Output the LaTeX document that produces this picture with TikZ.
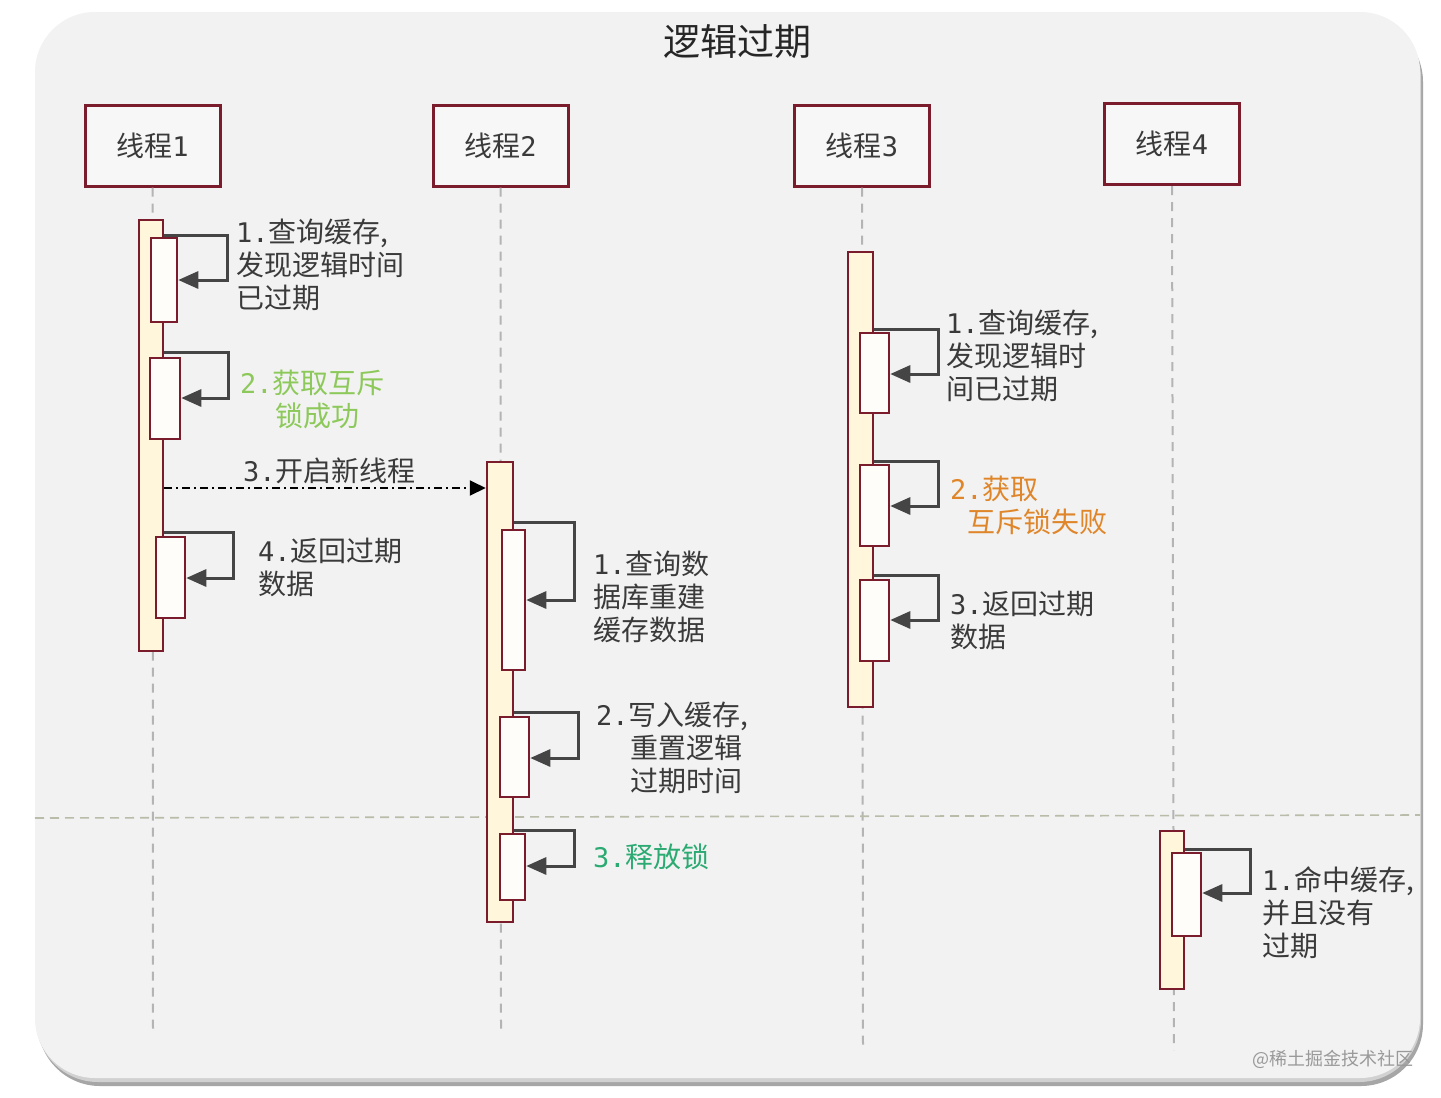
\documentclass[tikz,border=0pt]{standalone}
\usepackage{fontspec}
\setmainfont{Noto Sans CJK SC}
\newfontfamily\monof{DejaVu Sans Mono}
\usetikzlibrary{arrows.meta,fit}
\definecolor{bord}{HTML}{7B1C2C}
\definecolor{panel}{HTML}{F2F2F2}
\definecolor{barfill}{HTML}{FFF6DC}
\definecolor{subfill}{HTML}{FFFDF9}
\definecolor{txt}{HTML}{3A3A3A}
\definecolor{arr}{HTML}{454545}
\definecolor{lifec}{HTML}{B4B4B4}
\definecolor{limeg}{HTML}{8DC95A}
\definecolor{tealg}{HTML}{2BAA72}
\definecolor{orng}{HTML}{E0862A}
\definecolor{divc}{HTML}{B8BCA8}
\newcommand\nm[1]{{\monof\fontsize{27}{33}\selectfont #1}}
\begin{document}
\begin{tikzpicture}[x=1pt,y=-1pt,
  thread/.style={draw=bord,line width=3pt,fill=panel!60!white,minimum width=135pt,minimum height=81pt,inner sep=0pt,font=\fontsize{28}{32}\selectfont,text=txt},
  bar/.style={draw=bord,line width=2.5pt,fill=barfill,inner sep=0pt},
  sub/.style={draw=bord,line width=2.5pt,fill=subfill,inner sep=0pt},
  life/.style={draw=lifec,line width=2pt,dash pattern=on 9pt off 7pt},
  selfmsg/.style={draw=arr,line width=3pt,-{Triangle[length=20pt,width=17pt]}},
  lbl/.style={anchor=north west,inner sep=0pt,align=left,font=\fontsize{28}{33}\selectfont,text=txt}]
\useasboundingbox (0,0) rectangle (1441,1098);
\fill[white] (0,0) rectangle (1441,1098);
% panel with shadow
\fill[black!35,rounded corners=62pt] (38,20) rectangle (1423,1086);
\fill[black!18,rounded corners=62pt] (36,16) rectangle (1421,1082);
\fill[panel,rounded corners=60pt] (35,12) rectangle (1420,1078);
% title
\node[font=\fontsize{37}{40}\selectfont,text=black!85] (title) at (737,42) {逻辑过期};
% thread heads
\node[thread] (th1) at (152.5,145.5) {线程\nm{1}};
\node[thread] (th2) at (500.5,145.5) {线程\nm{2}};
\node[thread] (th3) at (862,145.5) {线程\nm{3}};
\node[thread] (th4) at (1172,144) {线程\nm{4}};
% lifeline ends
\coordinate (e1) at (153,1030);
\coordinate (e2) at (501,1030);
\coordinate (e3) at (863,1050);
\coordinate (e4) at (1174,1050);
\draw[life] (th1.south) -- (e1);
\draw[life] (th2.south) -- (e2);
\draw[life] (th3.south) -- (e3);
\draw[life] (th4.south) -- (e4);
% divider
\coordinate (dl) at (35,818);
\coordinate (dr) at (1420,815);
\draw[draw=divc,line width=1.6pt,dash pattern=on 9pt off 6pt] (dl) -- (dr);
% activation bars
\node[bar,fit={(139,220) (163,651)}] (b1) {};
\node[bar,fit={(487,462) (513,922)}] (b2) {};
\node[bar,fit={(848,252) (873,707)}] (b3) {};
\node[bar,fit={(1160,831) (1184,989)}] (b4) {};
% sub activations
\node[sub,fit={(151,238) (177,322)}] (s1a) {};
\node[sub,fit={(150,358) (180,439)}] (s1b) {};
\node[sub,fit={(156,537) (185,618)}] (s1c) {};
\node[sub,fit={(502,530) (525,670)}] (s2a) {};
\node[sub,fit={(500,717) (529,797)}] (s2b) {};
\node[sub,fit={(500,834) (525,900)}] (s2c) {};
\node[sub,fit={(860,333) (889,413)}] (s3a) {};
\node[sub,fit={(860,465) (889,546)}] (s3b) {};
\node[sub,fit={(860,580) (889,661)}] (s3c) {};
\node[sub,fit={(1172,853) (1201,936)}] (s4a) {};
% self messages
\draw[selfmsg] (b1.east |- 0,235) -- (227,235) -- (227,280) -- (s1a.east |- 0,280);
\draw[selfmsg] (b1.east |- 0,352) -- (228,352) -- (228,398) -- (s1b.east |- 0,398);
\draw[selfmsg] (b1.east |- 0,532) -- (233,532) -- (233,578) -- (s1c.east |- 0,578);
\draw[selfmsg] (b2.east |- 0,522) -- (574,522) -- (574,600) -- (s2a.east |- 0,600);
\draw[selfmsg] (b2.east |- 0,712) -- (578,712) -- (578,758) -- (s2b.east |- 0,758);
\draw[selfmsg] (b2.east |- 0,830) -- (574,830) -- (574,866) -- (s2c.east |- 0,866);
\draw[selfmsg] (b3.east |- 0,329) -- (938,329) -- (938,374) -- (s3a.east |- 0,374);
\draw[selfmsg] (b3.east |- 0,461) -- (938,461) -- (938,506) -- (s3b.east |- 0,506);
\draw[selfmsg] (b3.east |- 0,575) -- (938,575) -- (938,620) -- (s3c.east |- 0,620);
\draw[selfmsg] (b4.east |- 0,849) -- (1250,849) -- (1250,893) -- (s4a.east |- 0,893);
% new thread message
\draw[black,line width=2pt,dash pattern=on 8pt off 4pt on 2pt off 4pt,-{Triangle[length=16pt,width=15pt]}] (b1.east |- 0,488) -- (b2.west |- 0,488);
% labels (north west at top of first line)
\node[lbl] (l1a) at (236,219) {\nm{1.}查询缓存,\\发现逻辑时间\\已过期};
\node[lbl,text=limeg] (l1b) at (240,370) {\nm{2.}获取互斥\\\hspace*{35pt}锁成功};
\node[lbl] (l1c) at (243,458) {\nm{3.}开启新线程};
\node[lbl] (l1d) at (258,538) {\nm{4.}返回过期\\数据};
\node[lbl] (l2a) at (593,551) {\nm{1.}查询数\\据库重建\\缓存数据};
\node[lbl] (l2b) at (596,702) {\nm{2.}写入缓存,\\\hspace*{34pt}重置逻辑\\\hspace*{34pt}过期时间};
\node[lbl,text=tealg] (l2c) at (593,844) {\nm{3.}释放锁};
\node[lbl] (l3a) at (946,310) {\nm{1.}查询缓存,\\发现逻辑时\\间已过期};
\node[lbl,text=orng] (l3b) at (950,476) {\nm{2.}获取\\\hspace*{17pt}互斥锁失败};
\node[lbl] (l3c) at (950,591) {\nm{3.}返回过期\\数据};
\node[lbl] (l4a) at (1262,866) {\nm{1.}命中缓存,\\并且没有\\过期};
\node[anchor=base west,inner sep=0pt,font=\fontsize{18}{20}\selectfont,text=black!40] (wm) at (1252,1065) {@稀土掘金技术社区};
\end{tikzpicture}
\end{document}
